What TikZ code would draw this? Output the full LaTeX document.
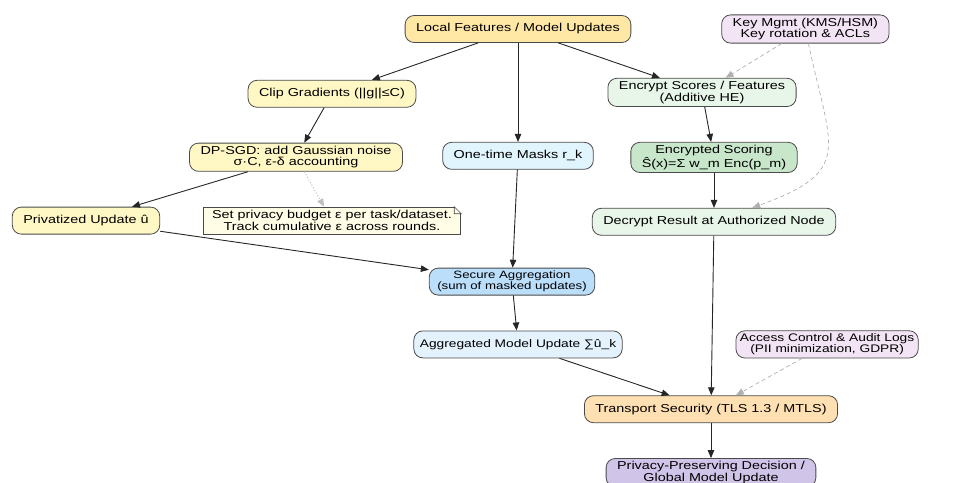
\documentclass[tikz,border=0pt]{standalone}
\usepackage{fontspec}
\setmainfont{Liberation Sans}[FakeStretch=1.25]
\usetikzlibrary{arrows.meta,positioning}
\definecolor{borderGray}{HTML}{4A4A4A}
\definecolor{dashGray}{HTML}{B0B0B0}
\definecolor{localFill}{HTML}{FFE7A6}
\definecolor{dpFill}{HTML}{FFF7C4}
\definecolor{noteFill}{HTML}{FFFDE6}
\definecolor{keyFill}{HTML}{F3E4F5}
\definecolor{heFill}{HTML}{E8F5E9}
\definecolor{scoreFill}{HTML}{C8E6C9}
\definecolor{maskFill}{HTML}{E1F5FE}
\definecolor{aggFill}{HTML}{BBDEFB}
\definecolor{globFill}{HTML}{E3F2FD}
\definecolor{tlsFill}{HTML}{FFE0B2}
\definecolor{decisionFill}{HTML}{D1C4E9}

\begin{document}
\begin{tikzpicture}[x=1pt, y=1pt, >={Triangle[length=8pt,width=6.5pt]}, line width=0.9pt, main/.style = {draw=borderGray, line width=0.8pt, rounded corners=9pt, align=center, minimum height=27pt, inner xsep=11pt, inner ysep=3pt, font=\fontsize{11.5}{11.5}\selectfont}, memo/.style = {main, rounded corners=0pt, fill=noteFill, inner xsep=9pt}, flow/.style = {->, draw=black!85}, keyflow/.style = {->, draw=dashGray, color=dashGray, dash pattern=on 4pt off 3pt, line width=0.7pt}, hint/.style = {->, draw=dashGray!80, color=dashGray!80, dotted, line width=1pt}]
\useasboundingbox (0,0) rectangle (971,-482);

\node[main, fill=localFill] (local) at (518,-29) {Local Features / Model Updates};
\node[main, fill=keyFill] (keys) [right=90pt of local] {Key Mgmt (KMS/HSM)\\Key rotation \& ACLs};
\node[main, fill=dpFill] (clip) [below=37pt of local, xshift=-186pt] {Clip Gradients (||g||≤C)};
\node[main, fill=heFill] (encrypt) [below=35pt of local, xshift=184pt] {Encrypt Scores / Features\\(Additive HE)};
\node[main, fill=dpFill] (dpsgd) [below=35pt of clip, xshift=-36pt] {DP-SGD: add Gaussian noise\\σ·C, ε-δ accounting};
\node[main, fill=maskFill] (masks) [below=99pt of local] {One-time Masks r\_k};
\node[main, fill=scoreFill] (scoring) [below=35pt of encrypt, xshift=12pt] {Encrypted Scoring\\Ŝ(x)=Σ w\_m Enc(p\_m)};
\node[main, fill=dpFill] (privatized) [below=35pt of dpsgd, xshift=-210pt] {Privatized Update û};
\node[memo] (budget) [below=35pt of dpsgd, xshift=36pt] {Set privacy budget ε per task/dataset.\\Track cumulative ε across rounds.};
\node[main, fill=heFill] (decrypt) [below=35pt of scoring] {Decrypt Result at Authorized Node};
\node[main, fill=aggFill, font=\fontsize{10.6}{11}\selectfont, inner xsep=8pt] (secAgg) [below=98pt of masks, xshift=-6pt] {Secure Aggregation\\(sum of masked updates)};
\node[main, fill=globFill, font=\fontsize{11}{11}\selectfont, inner xsep=6pt] (aggUpdate) [below=35pt of secAgg, xshift=6pt] {Aggregated Model Update ∑û\_k};
\node[main, fill=keyFill, font=\fontsize{11}{11}\selectfont, inner xsep=4pt] (access) [right=113pt of aggUpdate] {Access Control \& Audit Logs\\(PII minimization, GDPR)};
\node[main, fill=tlsFill] (transport) [below=37pt of aggUpdate, xshift=193pt] {Transport Security (TLS 1.3 / MTLS)};
\node[main, fill=decisionFill] (decision) [below=35pt of transport] {Privacy-Preserving Decision /\\Global Model Update};

\fill[white] ([xshift=-7pt]budget.north east) -- ([xshift=1pt,yshift=1pt]budget.north east) -- ([yshift=-7pt]budget.north east) -- cycle;
\draw[borderGray, line width=0.6pt] ([xshift=-7pt]budget.north east) -- ([xshift=-7pt,yshift=-7pt]budget.north east) -- ([yshift=-7pt]budget.north east) -- cycle;

\draw[flow] (local) -- (clip);
\draw[flow] (local) -- (masks);
\draw[flow] (local) -- (encrypt);
\draw[flow] (clip) -- (dpsgd);
\draw[flow] (dpsgd) -- (privatized);
\draw[hint] (dpsgd) -- (budget);
\draw[flow] (privatized) -- (secAgg);
\draw[flow] (masks) -- (secAgg);
\draw[flow] (secAgg) -- (aggUpdate);
\draw[flow] (aggUpdate) -- (transport);
\draw[flow] (encrypt) -- (scoring);
\draw[flow] (scoring) -- (decrypt);
\draw[flow] (decrypt) -- (transport);
\draw[flow] (transport) -- (decision);
\draw[keyflow] (keys) -- (encrypt);
\draw[keyflow] (keys) to [out=-78, in=20, looseness=1.6] (decrypt);
\draw[keyflow] (access) -- (transport);
\end{tikzpicture}
\end{document}
